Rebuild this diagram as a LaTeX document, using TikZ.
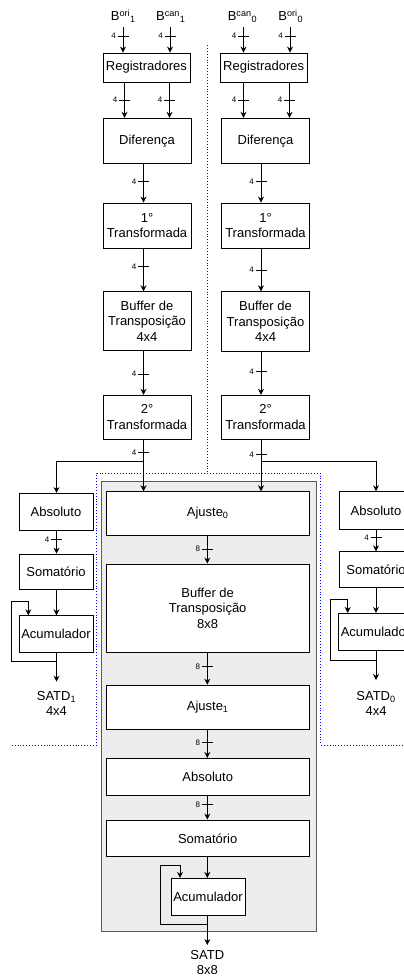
\documentclass[tikz,border=0pt]{standalone}
\usepackage{fontspec}
\setmainfont{Liberation Sans}
\usetikzlibrary{arrows.meta}
\newcommand{\busmark}[4]{%
  \draw[tickline] (#2-5.5,#3) -- (#2+5.5,#3);
  \node[buslbl, anchor=east] (#1) at (#2-7,#3) {#4};}
\begin{document}
\begin{tikzpicture}[x=1pt,y=-1pt,
  box/.style={draw=black, line width=0.8pt, fill=white, align=center, inner sep=0pt, font=\fontsize{13}{15.5}\selectfont},
  lbl/.style={align=center, inner sep=0pt, font=\fontsize{13}{15.5}\selectfont},
  buslbl/.style={inner sep=0pt, font=\fontsize{8}{9}\selectfont},
  arr/.style={line width=0.8pt, -{Stealth[length=6pt,width=6pt]}},
  tickline/.style={line width=0.8pt},
  bluedot/.style={blue, dotted, line width=0.9pt},
  graybox/.style={draw=black!65, fill=black!7, line width=0.8pt, inner sep=0pt}]
\useasboundingbox (0,0) rectangle (404,977);

% gray region
\node[graybox, minimum width=215pt, minimum height=450pt] (gray) at (209.2,706.7) {};

% blue dotted separators
\draw[bluedot] (207.3,45) -- (207.3,473.3);
\draw[bluedot] (11.7,745) -- (96.7,745) -- (96.7,473.3) -- (320.7,473.3) -- (320.7,745) -- (404,745);

% column x coordinates
\coordinate (cL) at (143.5,0);
\coordinate (cR) at (261,0);
\coordinate (cG) at (207.3,0);
\coordinate (cAL) at (56.5,0);
\coordinate (cAR) at (376,0);
\coordinate (a1) at (124.5,0);
\coordinate (a2) at (169.5,0);
\coordinate (a3) at (243.5,0);
\coordinate (a4) at (289.5,0);

% input labels
\node[lbl, anchor=base] (bo1) at (123.3,20.7) {B\textsuperscript{ori}\textsubscript{1}};
\node[lbl, anchor=base] (bc1) at (170.8,20.7) {B\textsuperscript{can}\textsubscript{1}};
\node[lbl, anchor=base] (bc0) at (242.5,20.7) {B\textsuperscript{can}\textsubscript{0}};
\node[lbl, anchor=base] (bo0) at (290.8,20.7) {B\textsuperscript{ori}\textsubscript{0}};
\coordinate (i1) at (123,27);
\coordinate (i2) at (170,27);
\coordinate (i3) at (243.5,27);
\coordinate (i4) at (290,27);

% left pipeline
\node[box, minimum width=87pt, minimum height=29pt] (reg1) at (146.4,67.5) {Registradores};
\node[box, minimum width=88pt, minimum height=45pt] (dif1) at (147,140.7) {Diferença};
\node[box, minimum width=88pt, minimum height=45pt] (tA1) at (147,225.5) {1°\\Transformada};
\node[box, minimum width=88pt, minimum height=59pt] (buf1) at (147,321.2) {Buffer de\\Transposição\\4x4};
\node[box, minimum width=88pt, minimum height=44pt] (tB1) at (147,417.2) {2°\\Transformada};

% right pipeline
\node[box, minimum width=87pt, minimum height=29pt] (reg0) at (263.7,67.5) {Registradores};
\node[box, minimum width=88pt, minimum height=45pt] (dif0) at (265.5,140.7) {Diferença};
\node[box, minimum width=88pt, minimum height=45pt] (tA0) at (265.5,225.5) {1°\\Transformada};
\node[box, minimum width=88pt, minimum height=60pt] (buf0) at (265.5,321.7) {Buffer de\\Transposição\\4x4};
\node[box, minimum width=88pt, minimum height=44pt] (tB0) at (265.5,417.2) {2°\\Transformada};

% left 4x4 SATD
\node[box, minimum width=74pt, minimum height=36.7pt] (absL) at (56,511.7) {Absoluto};
\node[box, minimum width=74pt, minimum height=35.3pt] (somL) at (56,571.7) {Somatório};
\node[box, minimum width=74pt, minimum height=37pt] (accL) at (56,634.2) {Acumulador};

% right 4x4 SATD
\node[box, minimum width=74pt, minimum height=37.6pt] (absR) at (376,510.5) {Absoluto};
\node[box, minimum width=74pt, minimum height=35.6pt] (somR) at (376,569.5) {Somatório};
\node[box, minimum width=74pt, minimum height=37.4pt] (accR) at (375.5,632) {Acumulador};

% 8x8 path in gray region
\node[box, minimum width=203.3pt, minimum height=43.3pt] (aj0) at (207.7,513.3) {Ajuste\textsubscript{0}};
\node[box, minimum width=203.3pt, minimum height=88.7pt] (bufG) at (207.7,608.3) {Buffer de\\Transposição\\8x8};
\node[box, minimum width=203.3pt, minimum height=44.3pt] (aj1) at (207.7,707.2) {Ajuste\textsubscript{1}};
\node[box, minimum width=203.3pt, minimum height=36.7pt] (absG) at (207.7,776.7) {Absoluto};
\node[box, minimum width=203.3pt, minimum height=36.7pt] (somG) at (207.7,838.3) {Somatório};
\node[box, minimum width=74pt, minimum height=37.4pt] (accG) at (208,897) {Acumulador};

% input arrows
\draw[arr] (i1) -- (reg1.north -| i1);
\draw[arr] (i2) -- (reg1.north -| i2);
\draw[arr] (i3) -- (reg0.north -| i3);
\draw[arr] (i4) -- (reg0.north -| i4);
\busmark{n1}{123}{36}{4}
\busmark{n2}{170}{36}{4}
\busmark{n3}{243.5}{36}{4}
\busmark{n4}{290}{36}{4}

% registers to difference
\draw[arr] (reg1.south -| a1) -- (dif1.north -| a1);
\draw[arr] (reg1.south -| a2) -- (dif1.north -| a2);
\draw[arr] (reg0.south -| a3) -- (dif0.north -| a3);
\draw[arr] (reg0.south -| a4) -- (dif0.north -| a4);
\busmark{n5}{124.5}{100}{4}
\busmark{n6}{169.5}{100}{4}
\busmark{n7}{243.5}{100}{4}
\busmark{n8}{289.5}{100}{4}

% column chains
\draw[arr] (dif1.south -| cL) -- (tA1.north -| cL);
\draw[arr] (tA1.south -| cL) -- (buf1.north -| cL);
\draw[arr] (buf1.south -| cL) -- (tB1.north -| cL);
\draw[arr] (dif0.south -| cR) -- (tA0.north -| cR);
\draw[arr] (tA0.south -| cR) -- (buf0.north -| cR);
\draw[arr] (buf0.south -| cR) -- (tB0.north -| cR);
\busmark{n9}{143.5}{181.7}{4}
\busmark{n10}{143.5}{266.7}{4}
\busmark{n11}{143.5}{374}{4}
\busmark{n12}{261}{181.7}{4}
\busmark{n13}{261}{270}{4}
\busmark{n14}{261}{371.7}{4}

% second transform outputs and branches
\coordinate (brL) at (143.5,461.7);
\coordinate (brR) at (261,461.7);
\draw[arr] (tB1.south -| cL) -- (aj0.north -| cL);
\draw[arr] (tB0.south -| cR) -- (aj0.north -| cR);
\draw[arr] (brL) -| (absL.north -| cAL);
\draw[arr] (brR) -| (absR.north -| cAR);
\busmark{n15}{143.5}{452.7}{4}
\busmark{n16}{261}{454.3}{4}

% left 4x4 SATD chain
\draw[arr] (absL.south -| cAL) -- (somL.north -| cAL);
\draw[arr] (somL.south -| cAL) -- (accL.north -| cAL);
\busmark{n17}{56.5}{539.3}{4}
\coordinate (fL1) at (11,661.7);
\coordinate (fL2) at (28.3,601.7);
\draw[arr] (accL.south -| cAL) |- (fL1) |- (fL2) -- (accL.north -| fL2);
\coordinate (oL) at (56.5,681.7);
\draw[arr] (accL.south -| cAL) -- (oL);
\node[lbl, anchor=north] (satd1) at (56.5,691.2) {SATD\textsubscript{1}\\4x4};

% right 4x4 SATD chain
\draw[arr] (absR.south -| cAR) -- (somR.north -| cAR);
\draw[arr] (somR.south -| cAR) -- (accR.north -| cAR);
\busmark{n18}{376}{537.7}{4}
\coordinate (fR1) at (330,660);
\coordinate (fR2) at (347.7,599);
\draw[arr] (accR.south -| cAR) |- (fR1) |- (fR2) -- (accR.north -| fR2);
\coordinate (oR) at (376,680);
\draw[arr] (accR.south -| cAR) -- (oR);
\node[lbl, anchor=north] (satd0) at (376,691.2) {SATD\textsubscript{0}\\4x4};

% 8x8 chain
\draw[arr] (aj0.south -| cG) -- (bufG.north -| cG);
\draw[arr] (bufG.south -| cG) -- (aj1.north -| cG);
\draw[arr] (aj1.south -| cG) -- (absG.north -| cG);
\draw[arr] (absG.south -| cG) -- (somG.north -| cG);
\draw[arr] (somG.south -| cG) -- (accG.north -| cG);
\busmark{n19}{207.3}{549}{8}
\busmark{n20}{207.3}{666.7}{8}
\busmark{n21}{207.3}{742.3}{8}
\busmark{n22}{207.3}{804.3}{8}
\coordinate (fG1) at (160,924.3);
\coordinate (fG2) at (180,865);
\draw[arr] (accG.south -| cG) |- (fG1) |- (fG2) -- (accG.north -| fG2);
\coordinate (oG) at (207.3,945);
\draw[arr] (accG.south -| cG) -- (oG);
\node[lbl, anchor=north] (satdG) at (207.3,950) {SATD\\8x8};
\end{tikzpicture}
\end{document}
